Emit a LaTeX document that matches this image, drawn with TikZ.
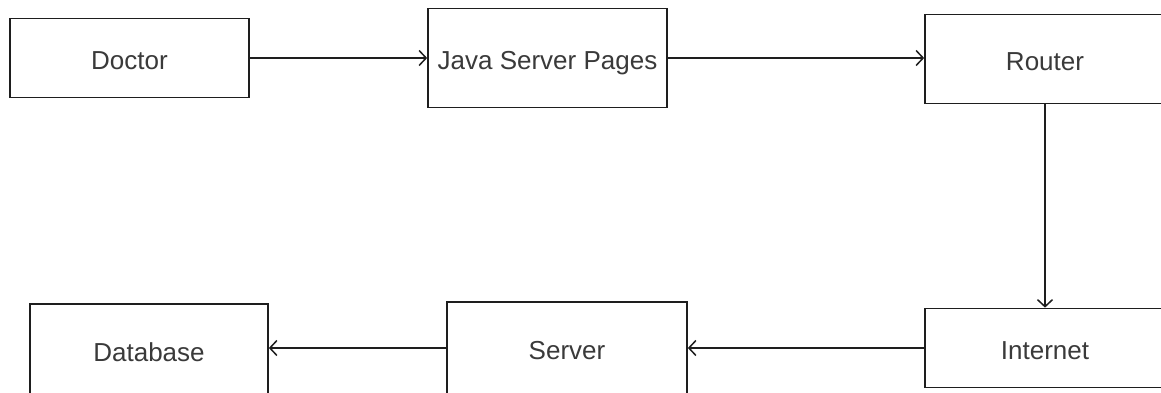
\documentclass[tikz,border=0pt]{standalone}
\usepackage{fontspec}
\setmainfont{Liberation Sans}
\usetikzlibrary{arrows.meta}
\definecolor{linec}{HTML}{1E1E1E}
\definecolor{textc}{HTML}{3A3A3A}
\tikzset{
  box/.style={draw=linec, line width=1.7pt, fill=white, minimum width=#1, inner sep=0pt, text=textc, font=\fontsize{26}{30}\selectfont, text height=23.5pt, text depth=0pt},
  box/.default=239pt,
  conn/.style={draw=linec, line width=1.7pt, -{Straight Barb[length=7pt,width=15pt,line width=1.5pt]}}
}
\begin{document}
\begin{tikzpicture}[x=1pt,y=-1pt]
\useasboundingbox (0,0) rectangle (1161,393);
\fill[white] (0,0) rectangle (1161,393);
\clip (0,0) rectangle (1161,393);
\node[box, minimum height=79pt] (doctor) at (129.5,58) {Doctor};
\node[box, minimum height=99pt] (jsp) at (547.5,58) {Java Server Pages};
\node[box=240pt, minimum height=89pt] (router) at (1045,59) {Router};
\node[box=240pt, minimum height=79pt] (internet) at (1045,348) {Internet};
\node[box=240pt, minimum height=92pt] (server) at (567,348) {Server};
\node[box=238pt, minimum height=92pt] (database) at (149,350) {Database};
\draw[conn] (doctor.east) -- (doctor.east -| jsp.west);
\draw[conn] (jsp.east) -- (jsp.east -| router.west);
\draw[conn] (router.south) -- (internet.north);
\draw[conn] (internet.west) -- (internet.west -| server.east);
\draw[conn] (server.west) -- (server.west -| database.east);
\end{tikzpicture}
\end{document}
